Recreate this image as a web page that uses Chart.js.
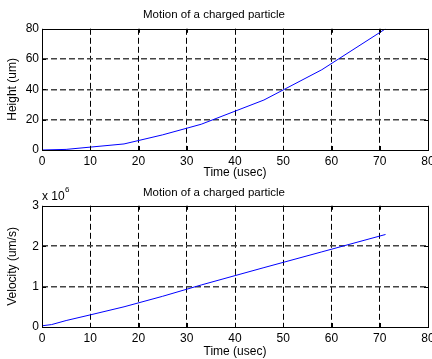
<!DOCTYPE html>
<html>
<head>
<meta charset="utf-8">
<script src="https://cdn.jsdelivr.net/npm/chart.js@4/dist/chart.umd.min.js"></script>
<style>
  body { margin: 0; background: #fff; }
  .box { position: absolute; left: 0; width: 432px; }
  #top { top: 0; height: 180px; }
  #bot { top: 180px; height: 179px; }
</style>
</head>
<body>
<div class="box" id="top"><canvas id="heightChart"></canvas></div>
<div class="box" id="bot"><canvas id="velocityChart"></canvas></div>
<script>
// Podaci (ocitano sa slike)
const heightTimes = [0, 5, 10, 17, 25, 33, 46, 58, 71.2];      // usec
const heights = [0, 0.4, 1.9, 4, 10, 17, 33, 53, 80];           // um
const velTimes = [0, 2, 5, 10, 17, 25, 33, 46, 58, 71.2];       // usec
const velocities = [0.03e6, 0.06e6, 0.16e6, 0.3e6, 0.5e6, 0.76e6, 1.04e6, 1.47e6, 1.86e6, 2.29e6]; // um/s
const timeTicks = [0, 10, 20, 30, 40, 50, 60, 70, 80];
const heightTicks = [0, 20, 40, 60, 80];
const velTicks = [0, 1e6, 2e6, 3e6];

const chartTitle = 'Motion of a charged particle';
const FONT = "'Liberation Sans', Arial, sans-serif";

Chart.defaults.color = '#000';
Chart.defaults.font.family = FONT;
Chart.defaults.font.size = 12;

function toPoints(xs, ys) {
    return xs.map((x, i) => ({ x: x, y: ys[i] }));
}

// Okvir i kratke crtice prema unutra (kao u MATLAB-u)
const boxPlugin = {
    id: 'boxPlugin',
    afterDraw(chart) {
        const ctx = chart.ctx;
        const a = chart.chartArea;
        const xs = chart.scales.x, ys = chart.scales.y;
        ctx.save();
        ctx.strokeStyle = '#000';
        ctx.lineWidth = 1;
        ctx.setLineDash([]);
        ctx.strokeRect(Math.round(a.left) + 0.5, Math.round(a.top) + 0.5,
            Math.round(a.right - a.left), Math.round(a.bottom - a.top));
        ctx.beginPath();
        xs.ticks.forEach(t => {
            const px = Math.round(xs.getPixelForValue(t.value)) + 0.5;
            ctx.moveTo(px, a.bottom); ctx.lineTo(px, a.bottom - 4);
            ctx.moveTo(px, a.top); ctx.lineTo(px, a.top + 4);
        });
        ys.ticks.forEach(t => {
            const py = Math.round(ys.getPixelForValue(t.value)) + 0.5;
            ctx.moveTo(a.left, py); ctx.lineTo(a.left + 4, py);
            ctx.moveTo(a.right, py); ctx.lineTo(a.right - 4, py);
        });
        ctx.stroke();
        const opts = chart.options.plugins.boxPlugin;
        if (opts && opts.exponent) {
            ctx.fillStyle = '#000';
            ctx.textBaseline = 'middle';
            ctx.textAlign = 'left';
            ctx.font = '12px ' + FONT;
            ctx.fillText('x 10', a.left, a.top - 9);
            ctx.font = '8px ' + FONT;
            ctx.fillText(opts.exponent, a.left + 23, a.top - 16);
        }
        ctx.restore();
    }
};

function makeOptions(cfg) {
    return {
        responsive: true,
        maintainAspectRatio: false,
        animation: false,
        layout: { autoPadding: false, padding: { left: 0, right: 4, top: 0, bottom: 0 } },
        plugins: {
            legend: { display: false },
            tooltip: { enabled: false },
            title: {
                display: true,
                text: chartTitle,
                font: { size: 11.5, weight: 'normal' },
                padding: { top: cfg.titleTop, bottom: cfg.titleBottom }
            },
            boxPlugin: { exponent: cfg.exponent }
        },
        scales: {
            x: {
                type: 'linear',
                min: 0, max: 80,
                afterBuildTicks: s => { s.ticks = timeTicks.map(v => ({ value: v })); },
                afterFit: s => { s.height = cfg.xHeight; s.paddingLeft = 0; s.paddingRight = 0; },
                border: { display: false, dash: [6, 3] },
                grid: {
                    drawTicks: false,
                    color: c => (c.tick.value === 0 || c.tick.value === 80) ? 'rgba(0,0,0,0)' : '#000',
                    lineWidth: 1
                },
                ticks: { padding: 4, maxRotation: 0, autoSkip: false },
                title: { display: true, text: 'Time (usec)', padding: { top: 0, bottom: 0 } }
            },
            y: {
                type: 'linear',
                min: cfg.yMin, max: cfg.yMax,
                afterBuildTicks: s => { s.ticks = cfg.yTicks.map(v => ({ value: v })); },
                afterFit: s => { s.width = 42; s.paddingTop = 0; s.paddingBottom = 0; },
                border: { display: false, dash: [6, 3] },
                grid: {
                    drawTicks: false,
                    color: c => (c.tick.value === cfg.yMin || c.tick.value === cfg.yMax) ? 'rgba(0,0,0,0)' : '#444',
                    lineWidth: 1.5
                },
                ticks: {
                    padding: 3,
                    autoSkip: false,
                    callback: cfg.tickFormat
                },
                title: { display: true, text: cfg.yTitle, padding: { top: 5, bottom: 0 } }
            }
        }
    };
}

function lineDataset(points) {
    return {
        data: points,
        borderColor: '#0000ff',
        borderWidth: 1,
        pointRadius: 0,
        fill: false,
        tension: 0
    };
}

new Chart(document.getElementById('heightChart'), {
    type: 'line',
    data: { datasets: [lineDataset(toPoints(heightTimes, heights))] },
    options: makeOptions({
        titleTop: 8, titleBottom: 7, xHeight: 30,
        yMin: 0, yMax: 80, yTicks: heightTicks,
        yTitle: 'Height (um)',
        tickFormat: v => v
    }),
    plugins: [boxPlugin]
});

new Chart(document.getElementById('velocityChart'), {
    type: 'line',
    data: { datasets: [lineDataset(toPoints(velTimes, velocities))] },
    options: makeOptions({
        titleTop: 6, titleBottom: 6, xHeight: 32,
        yMin: 0, yMax: 3e6, yTicks: velTicks,
        yTitle: 'Velocity (um/s)',
        exponent: '6',
        tickFormat: v => v / 1e6
    }),
    plugins: [boxPlugin]
});
</script>
</body>
</html>
